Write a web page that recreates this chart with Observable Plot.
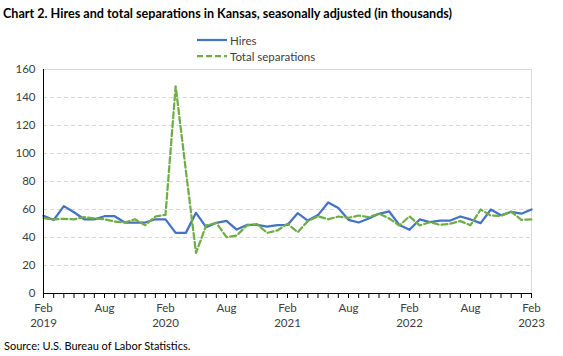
<!DOCTYPE html>
<html>
<head>
<meta charset="utf-8">
<script src="https://cdn.jsdelivr.net/npm/d3@7"></script>
<script src="https://cdn.jsdelivr.net/npm/@observablehq/plot@0.6"></script>
<style>
  html, body { margin: 0; padding: 0; background: #fff; }
  body { width: 563px; height: 356px; overflow: hidden; font-family: Lato, "Open Sans", sans-serif; color: #000; }
  #wrap { position: relative; width: 563px; height: 356px; }
  #title { position: absolute; left: 3px; top: 6px; font-weight: bold; font-size: 12.6px; white-space: nowrap; }
  #legend { position: absolute; left: 197px; top: 32px; font-size: 11.5px; color: #404040; }
  .li { display: flex; align-items: center; height: 16px; }
  .li svg { margin-right: 3px; }
  #source { position: absolute; left: 4px; top: 339px; font-size: 11px; color: #000; white-space: nowrap; }
  #chart { position: absolute; left: 0; top: 0; }
</style>
</head>
<body>
<div id="wrap">
  <div id="chart"></div>
  <div id="title">Chart 2. Hires and total separations in Kansas, seasonally adjusted (in thousands)</div>
  <div id="legend">
    <div class="li"><svg width="30" height="4"><line x1="0" y1="2" x2="30" y2="2" stroke="#4472C4" stroke-width="2.25"/></svg>Hires</div>
    <div class="li"><svg width="30" height="4"><line x1="0" y1="2" x2="30" y2="2" stroke="#70AD47" stroke-width="2.25" stroke-dasharray="6,3"/></svg>Total separations</div>
  </div>
  <div id="source">Source: U.S. Bureau of Labor Statistics.</div>
</div>
<script>
const months = [
  "Feb 2019","Mar 2019","Apr 2019","May 2019","Jun 2019","Jul 2019","Aug 2019","Sep 2019","Oct 2019","Nov 2019","Dec 2019",
  "Jan 2020","Feb 2020","Mar 2020","Apr 2020","May 2020","Jun 2020","Jul 2020","Aug 2020","Sep 2020","Oct 2020","Nov 2020","Dec 2020",
  "Jan 2021","Feb 2021","Mar 2021","Apr 2021","May 2021","Jun 2021","Jul 2021","Aug 2021","Sep 2021","Oct 2021","Nov 2021","Dec 2021",
  "Jan 2022","Feb 2022","Mar 2022","Apr 2022","May 2022","Jun 2022","Jul 2022","Aug 2022","Sep 2022","Oct 2022","Nov 2022","Dec 2022",
  "Jan 2023","Feb 2023"
];
const hires = [
  55.5, 52.5, 62.4, 58, 53, 53, 55.2, 55.2, 50.7, 50.7, 50.7,
  53, 53, 43.3, 43.3, 57.6, 47.4, 50.5, 51.9, 45.7, 49, 49, 47.8,
  48.8, 49, 57.4, 52.1, 56, 65, 61, 52.6, 50.7, 53.6, 56.9, 58.6,
  49, 45.5, 52.9, 51, 52.1, 52.1, 55, 52.9, 50.3, 60, 55.9, 58.3,
  57, 60
];
const separations = [
  53.8, 53, 53.3, 53, 54.5, 53.6, 53, 51.4, 50.7, 53, 48.8,
  55, 56.2, 148, 88, 29, 48.6, 50.5, 40.2, 41.4, 48.6, 49.5, 43.3,
  45, 49.8, 43.8, 51.7, 55.2, 53, 55, 54, 55.7, 54.5, 57, 53.6,
  48.6, 55, 48.6, 51, 49, 49.8, 51.7, 48.8, 60, 55.6, 55.5, 58.5,
  52.6, 52.9
];
const xTickLabels = ["Feb\n2019","Aug","Feb\n2020","Aug","Feb\n2021","Aug","Feb\n2022","Aug","Feb\n2023"];
const yTicks = [0, 20, 40, 60, 80, 100, 120, 140, 160];

const data = months.map((m, i) => ({i, month: m, hires: hires[i], separations: separations[i]}));
const monthIdx = months.map((m, i) => i);

const chart = Plot.plot({
  width: 563,
  height: 356,
  marginTop: 69,
  marginBottom: 63,
  marginLeft: 43,
  marginRight: 32,
  style: {fontFamily: "Lato, 'Open Sans', sans-serif", background: "transparent"},
  x: {type: "linear", domain: [0, months.length - 1], axis: null},
  y: {domain: [0, 160], axis: null},
  marks: [
    Plot.ruleY(yTicks.slice(1, -1), {stroke: "#d9d9d9", strokeWidth: 1, strokeDasharray: "4,3"}),
    Plot.ruleY([yTicks[yTicks.length - 1]], {stroke: "#d9d9d9", strokeWidth: 1}),
    Plot.ruleX([months.length - 1], {stroke: "#d9d9d9", strokeWidth: 1}),
    Plot.axisY({ticks: yTicks, tickSize: 0, tickPadding: 8, fontSize: 11.5, color: "#404040", label: null}),
    Plot.axisX({
      ticks: monthIdx,
      tickSize: 5,
      tickPadding: 3,
      fontSize: 11.5,
      lineHeight: 1.3,
      color: "#404040",
      stroke: "#000",
      label: null,
      tickFormat: i => (i % 6 === 0 ? xTickLabels[i / 6] : "")
    }),
    Plot.line(data, {x: "i", y: "hires", stroke: "#4472C4", strokeWidth: 2.25, strokeLinejoin: "round"}),
    Plot.line(data, {x: "i", y: "separations", stroke: "#70AD47", strokeWidth: 2.25, strokeDasharray: "6,3"}),
    Plot.ruleX([0], {stroke: "#000", strokeWidth: 1}),
    Plot.ruleY([0], {stroke: "#000", strokeWidth: 1})
  ]
});
document.getElementById("chart").appendChild(chart);
</script>
</body>
</html>
